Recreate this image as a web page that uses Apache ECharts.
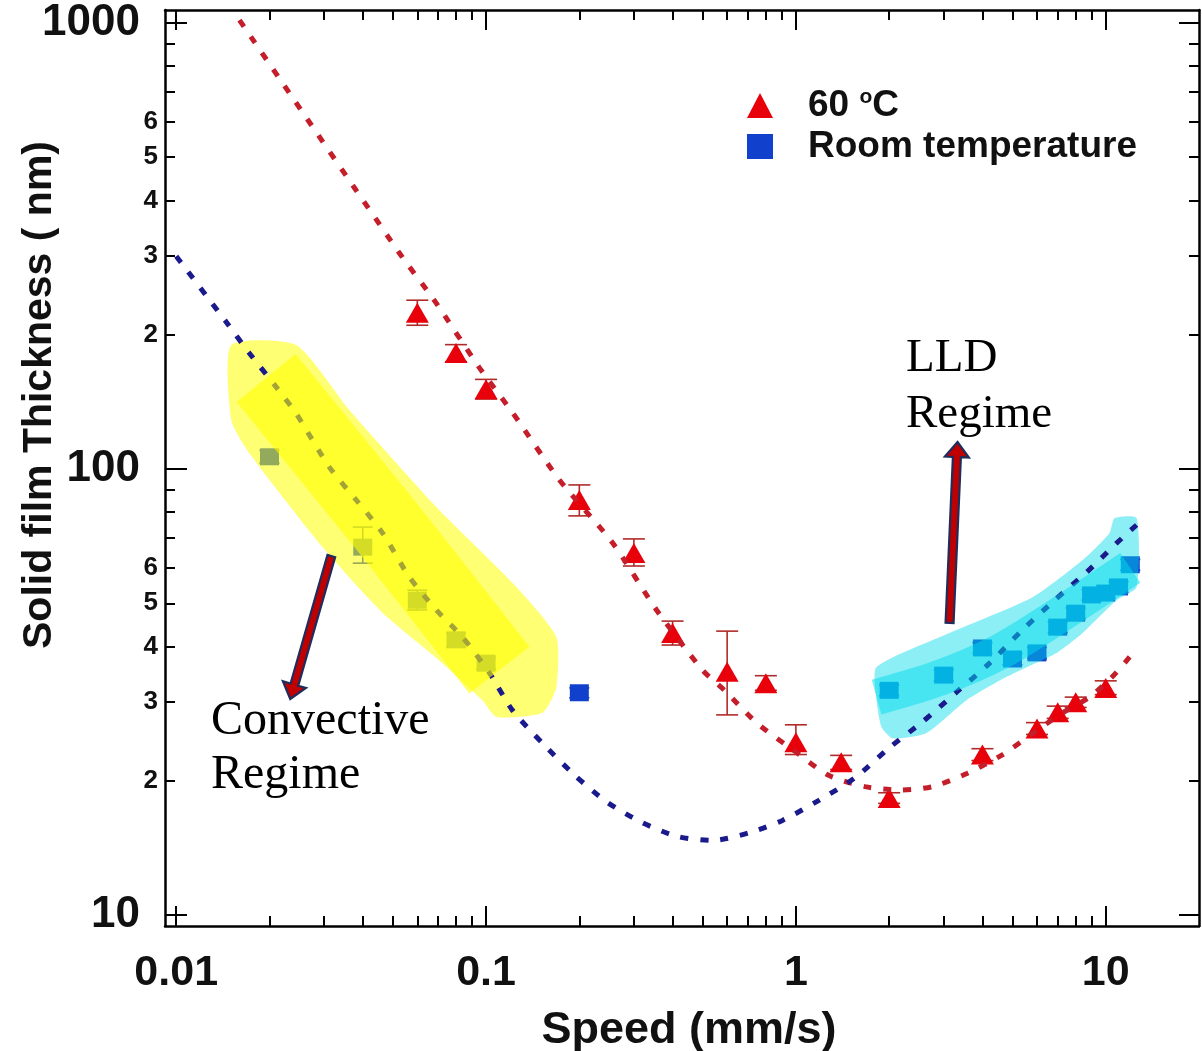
<!DOCTYPE html>
<html>
<head>
<meta charset="utf-8">
<script src="https://cdn.jsdelivr.net/npm/echarts@6/dist/echarts.min.js"></script>
<style>html,body{margin:0;padding:0;background:#fff}#main{width:1202px;height:1051px}</style>
</head>
<body>
<div id="main"></div>
<script>
// measured points, 60 C (triangles)
const redX = [0.06, 0.08, 0.1, 0.2, 0.3, 0.4, 0.6, 0.8, 1, 1.4, 2, 4, 6, 7, 8, 10];
const redY = [224, 182, 151, 85.2, 64.8, 42.9, 35.1, 33.1, 24.4, 22.0, 18.3, 22.9, 26.2, 28.5, 30.0, 32.3];
const redLow = [210, 174, 143.5, 78.5, 60.6, 40.3, 28.1, 31.9, 22.9, 21.2, 17.8, 22.2, 25.4, 27.6, 29.2, 31.2];
const redHigh = [239, 190, 158.8, 92.1, 69.7, 45.6, 43.3, 34.4, 26.7, 22.8, 18.8, 23.6, 27.0, 29.4, 30.8, 33.5];

// room temperature (squares)
const blueX = [0.02, 0.04, 0.06, 0.08, 0.1, 0.2, 2, 3, 4, 5, 6, 7, 8, 9, 10, 11, 12];
const blueY = [106.5, 66.8, 50.8, 41.4, 36.7, 31.5, 31.9, 34.5, 39.7, 37.5, 38.7, 44.2, 47.5, 52.2, 52.7, 54.4, 61.0];
const blueLow = [103, 61.5, 48.3, 39.9, 35.6, 30.7, 31.0, 33.5, 38.6, 36.4, 37.6, 43.0, 46.2, 50.8, 51.3, 52.9, 59.3];
const blueHigh = [110, 74.1, 53.5, 42.9, 37.8, 32.3, 32.8, 35.5, 40.8, 38.6, 39.8, 45.4, 48.8, 53.6, 54.1, 55.9, 62.7];

// dotted fit curves
const redFitX = [0.016, 0.0525, 0.068, 0.095, 0.122, 0.1725, 0.256, 0.355, 0.5, 0.588, 0.75, 1.0, 1.27, 1.67, 2.16, 2.76, 3.58, 4.65, 6.03, 7.26, 8.87, 10.5, 11.95];
const redFitY = [1015, 305, 239, 169, 133.5, 94.5, 68.3, 48.3, 35.4, 31.9, 26.9, 23.2, 20.6, 19.4, 19.07, 19.4, 20.8, 22.9, 26.0, 28.4, 30.8, 34.2, 37.9];
const blueFitX = [0.01, 0.0145, 0.0172, 0.021, 0.0244, 0.0312, 0.0381, 0.0463, 0.0565, 0.0691, 0.0839, 0.1025, 0.1216, 0.152, 0.193, 0.246, 0.32, 0.415, 0.538, 0.708, 0.905, 1.19, 1.55, 2.0, 2.56, 3.3, 4.22, 5.39, 6.84, 8.68, 10.84, 12.58];
const blueFitY = [300, 213.6, 182, 152.8, 133, 101, 85.2, 71.9, 57.3, 48.3, 42.0, 34.9, 28.8, 24.3, 20.6, 17.9, 16.1, 15.0, 14.7, 15.3, 16.3, 18.1, 20.3, 23.7, 27.1, 31.6, 36.7, 43.6, 50.8, 58.7, 68.2, 74.9];

// highlighter strokes (annotation outlines in data units) and arrows
const yellowOutX = [0.01505, 0.0244, 0.0362, 0.0691, 0.1253, 0.1686, 0.1686, 0.152, 0.108, 0.0973, 0.0723, 0.0463, 0.02961, 0.0172, 0.01505];
const yellowOutY = [189.7, 189.7, 135.6, 82.2, 54.4, 42.0, 32.4, 28.4, 27.8, 30.3, 36.7, 47.6, 66.9, 108.6, 128.8];
const yellowCoreX = [0.0195, 0.04873, 0.1104];
const yellowCoreY = [160, 73.0, 35.4];
const cyanOutX = [1.821, 3.133, 5.808, 8.422, 10.29, 10.68, 12.58, 12.58, 10.84, 8.422, 6.94, 4.786, 3.554, 2.641, 2.051, 1.889, 1.821];
const cyanOutY = [35.98, 42.9, 51.6, 62.5, 71.9, 77.6, 77.6, 54.4, 50.8, 42.9, 38.7, 34.2, 30.3, 25.6, 24.9, 26.4, 30.3];
const cyanCoreX = [1.821, 2.909, 4.543, 7.10, 12.0];
const cyanCoreY = [30.8, 34.0, 38.9, 47.1, 60.0];
const arrows = [[0.03166, 63.8, 0.02334, 30.5], [3.133, 45.2, 3.325, 114.9]];

// axes
const xMajor = [0.01, 0.1, 1, 10];
const xMinor = [0.02, 0.03, 0.04, 0.05, 0.06, 0.07, 0.08, 0.09, 0.2, 0.3, 0.4, 0.5, 0.6, 0.7, 0.8, 0.9, 2, 3, 4, 5, 6, 7, 8, 9];
const yMajor = [10, 100, 1000];
const yMinor = [20, 30, 40, 50, 60, 70, 80, 90, 200, 300, 400, 500, 600, 700, 800, 900];
const yLabels = [10, 20, 30, 40, 50, 60, 100, 200, 300, 400, 500, 600, 1000];

const X_MIN = 0.0092, X_MAX = 20, Y_MIN = 9.45, Y_MAX = 1069;
const sans = '"Liberation Sans", Arial, sans-serif';
const serif = '"Liberation Serif", "Times New Roman", serif';

function axis(kind, position, ticks, len, line, label) {
  return {
    type: 'log', position,
    min: kind === 'x' ? X_MIN : Y_MIN,
    max: kind === 'x' ? X_MAX : Y_MAX,
    axisLine: {show: line, onZero: false, lineStyle: {color: '#000', width: 2.5}},
    axisTick: {show: true, inside: true, length: len, customValues: ticks, lineStyle: {color: '#000', width: 2}},
    axisLabel: label || {show: false},
    splitLine: {show: false},
    minorTick: {show: false}
  };
}

function errorBar(color, half) {
  return function (params, api) {
    const x = api.value(0);
    const lo = api.coord([x, api.value(1)]);
    const hi = api.coord([x, api.value(2)]);
    const st = {stroke: color, lineWidth: 1.6};
    return {type: 'group', children: [
      {type: 'line', shape: {x1: lo[0], y1: lo[1], x2: hi[0], y2: hi[1]}, style: st},
      {type: 'line', shape: {x1: lo[0] - half, y1: lo[1], x2: lo[0] + half, y2: lo[1]}, style: st},
      {type: 'line', shape: {x1: hi[0] - half, y1: hi[1], x2: hi[0] + half, y2: hi[1]}, style: st}
    ]};
  };
}

// one filled outline per series, drawn once from all its points
function band(xs, ys, color) {
  return function (params, api) {
    if (params.dataIndex !== 0) return {type: 'group', children: []};
    return {
      type: 'polygon',
      shape: {points: xs.map((x, i) => api.coord([x, ys[i]])), smooth: 0.2},
      style: {fill: color}
    };
  };
}

function arrowItem(params, api) {
  const a = api.coord([api.value(0), api.value(1)]);
  const b = api.coord([api.value(2), api.value(3)]);
  const dx = b[0] - a[0], dy = b[1] - a[1], L = Math.hypot(dx, dy);
  const ux = dx / L, uy = dy / L, nx = -uy, ny = ux;
  const sw = 4, hw = 12, hl = 15;
  const bx = b[0] - ux * hl, by = b[1] - uy * hl;
  const pts = [
    [a[0] + nx * sw, a[1] + ny * sw], [bx + nx * sw, by + ny * sw], [bx + nx * hw, by + ny * hw],
    b, [bx - nx * hw, by - ny * hw], [bx - nx * sw, by - ny * sw], [a[0] - nx * sw, a[1] - ny * sw]
  ];
  return {type: 'polygon', shape: {points: pts}, style: {fill: '#c00000', stroke: '#1f2d5c', lineWidth: 2.2}};
}

const pair = (xs, ys) => xs.map((x, i) => [x, ys[i]]);

const chart = echarts.init(document.getElementById('main'), null, {renderer: 'canvas'});
chart.setOption({
  animation: false,
  backgroundColor: '#fff',
  grid: {left: 165, right: 3, top: 10, bottom: 125, outerBoundsMode: 'none'},
  legend: {
    orient: 'vertical', left: 747, top: 87, padding: 0, itemGap: 4,
    itemWidth: 26, itemHeight: 25,
    data: ['60 °C', 'Room temperature'],
    formatter: name => name === '60 °C' ? '{pad|}60 {sup|o}C' : '{pad|}' + name,
    textStyle: {
      fontSize: 37, fontWeight: 'bold', fontFamily: sans, color: '#111', lineHeight: 37,
      rich: {
        pad: {width: 30},
        sup: {fontSize: 21, fontWeight: 'bold', fontFamily: sans, color: '#111', lineHeight: 21, verticalAlign: 'top'}
      }
    }
  },
  xAxis: [
    Object.assign(axis('x', 'bottom', xMajor, 20, true, {
      customValues: xMajor, margin: 26, fontSize: 43, fontWeight: 'bold', fontFamily: sans, color: '#111',
      formatter: v => String(v)
    }), {
      name: 'Speed (mm/s)', nameLocation: 'middle', nameGap: 82, nameMoveOverlap: false,
      nameTextStyle: {fontSize: 45, fontWeight: 'bold', fontFamily: sans, color: '#111', padding: [0, 0, 0, 14]}
    }),
    axis('x', 'bottom', xMinor, 10, false),
    axis('x', 'top', xMajor, 20, true),
    axis('x', 'top', xMinor, 10, false)
  ],
  yAxis: [
    Object.assign(axis('y', 'left', yMajor, 22, true, {
      customValues: yLabels, margin: 7, fontFamily: sans, fontWeight: 'bold', color: '#111',
      formatter: v => {
        const p = Math.pow(10, Math.floor(Math.log10(v) + 1e-9));
        const d = Math.round(v / p);
        return d === 1 ? '{big|' + v + '}' : '{small|' + d + '}';
      },
      rich: {
        big: {fontSize: 44, fontWeight: 'bold', fontFamily: sans, color: '#111', padding: [0, 18, 0, 0]},
        small: {fontSize: 26, fontWeight: 'bold', fontFamily: sans, color: '#111'}
      }
    }), {
      name: 'Solid film Thickness ( nm)', nameLocation: 'middle', nameGap: 105, nameMoveOverlap: false,
      nameTextStyle: {fontSize: 41, fontWeight: 'bold', fontFamily: sans, color: '#111', padding: [0, 0, 0, 146]}
    }),
    axis('y', 'left', yMinor, 10, false),
    axis('y', 'right', yMajor, 20, true),
    axis('y', 'right', yMinor, 10, false)
  ],
  series: [
    {
      name: 'fit 60', type: 'line', data: pair(redFitX, redFitY), symbol: 'none', smooth: 0.25, silent: true,
      lineStyle: {color: '#c41e2a', width: 5, type: [8, 12]}
    },
    {
      name: 'fit room', type: 'line', data: pair(blueFitX, blueFitY), symbol: 'none', smooth: 0.25, silent: true,
      lineStyle: {color: '#1a1a8c', width: 5, type: [8, 12]}
    },
    {
      name: 'err 60', type: 'custom', renderItem: errorBar('#b02a2a', 11), silent: true,
      encode: {x: 0, y: [1, 2]}, data: redX.map((x, i) => [x, redLow[i], redHigh[i]])
    },
    {
      name: 'err room', type: 'custom', renderItem: errorBar('#1538b8', 10), silent: true,
      encode: {x: 0, y: [1, 2]}, data: blueX.map((x, i) => [x, blueLow[i], blueHigh[i]])
    },
    {
      name: '60 °C', type: 'scatter', symbol: 'triangle', symbolSize: [23, 20],
      data: pair(redX, redY), itemStyle: {color: '#e8000b', opacity: 1}
    },
    {
      name: 'Room temperature', type: 'scatter', symbol: 'rect', symbolSize: [19, 17],
      data: pair(blueX, blueY), itemStyle: {color: '#1040cc', opacity: 1}
    },
    {
      name: 'yellow band', type: 'custom', silent: true, z: 3, encode: {x: 0, y: 1},
      renderItem: band(yellowOutX, yellowOutY, 'rgba(255,255,0,0.55)'), data: pair(yellowOutX, yellowOutY)
    },
    {
      name: 'yellow core', type: 'line', data: pair(yellowCoreX, yellowCoreY), symbol: 'none', smooth: 0.3, silent: true, z: 3,
      lineStyle: {color: 'rgba(255,255,0,0.6)', width: 76, cap: 'butt', join: 'round'}
    },
    {
      name: 'cyan band', type: 'custom', silent: true, z: 3, encode: {x: 0, y: 1},
      renderItem: band(cyanOutX, cyanOutY, 'rgba(0,220,235,0.45)'), data: pair(cyanOutX, cyanOutY)
    },
    {
      name: 'cyan core', type: 'line', data: pair(cyanCoreX, cyanCoreY), symbol: 'none', smooth: 0.3, silent: true, z: 3,
      lineStyle: {color: 'rgba(0,220,235,0.5)', width: 36, cap: 'butt', join: 'round'}
    },
    {
      name: 'arrows', type: 'custom', renderItem: arrowItem, silent: true, z: 4,
      encode: {x: [0, 2], y: [1, 3]}, data: arrows
    }
  ],
  graphic: [
    {type: 'text', left: 211, top: 694, style: {text: 'Convective\nRegime', fontSize: 48, fontFamily: serif, fill: '#000', lineHeight: 54}},
    {type: 'text', left: 906, top: 331, style: {text: 'LLD\nRegime', fontSize: 47, fontFamily: serif, fill: '#000', lineHeight: 56}}
  ]
});
</script>
</body>
</html>
